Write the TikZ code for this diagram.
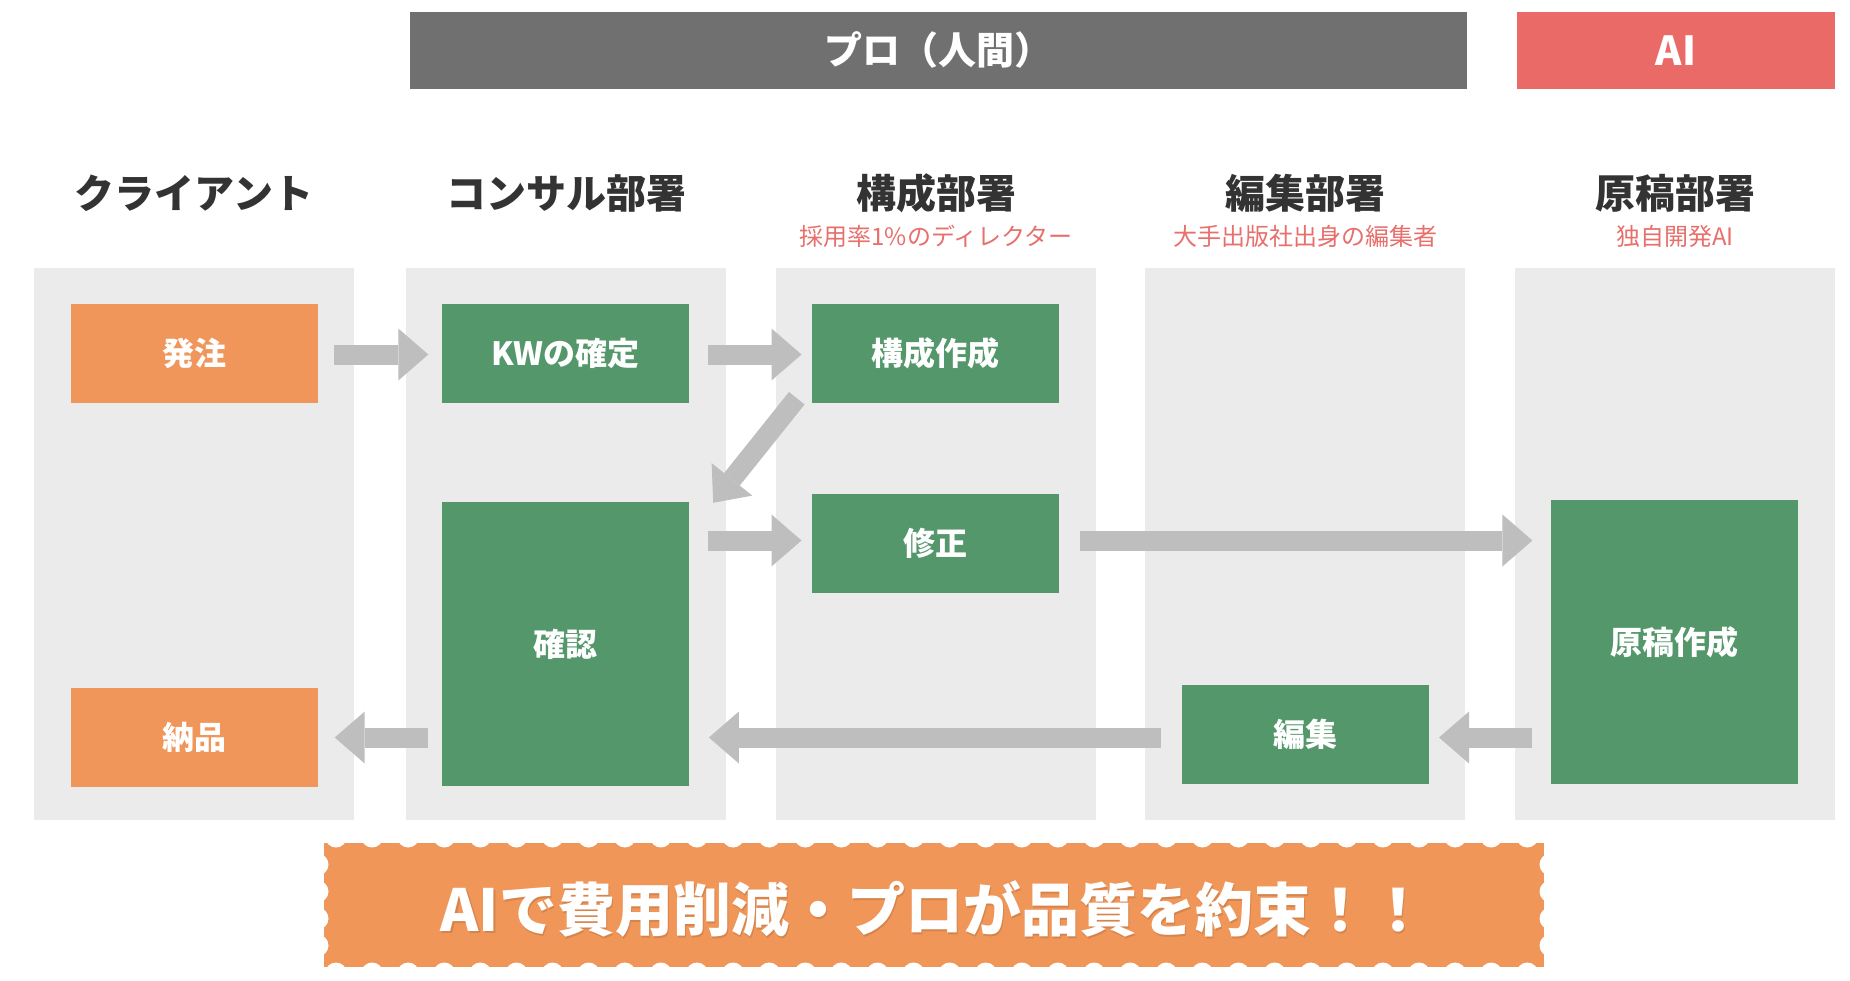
\documentclass[tikz,border=0pt]{standalone}
\usepackage{fontspec}
\setmainfont{Noto Sans CJK JP}
\usetikzlibrary{arrows.meta}
\definecolor{bargray}{HTML}{707070}
\definecolor{aired}{HTML}{E96A66}
\definecolor{colbg}{HTML}{EBEBEB}
\definecolor{boxorange}{HTML}{F0965A}
\definecolor{boxgreen}{HTML}{53976A}
\definecolor{arrowgray}{HTML}{BEBEBE}
\definecolor{headtext}{HTML}{333333}
\definecolor{subred}{HTML}{E8706C}
\definecolor{bannerorange}{HTML}{EF9658}
\definecolor{shadowc}{HTML}{B8703F}
\begin{document}
\begin{tikzpicture}[x=1pt, y=-1pt,
  lane/.style={fill=colbg, draw=none, minimum width=320pt, minimum height=552pt, inner sep=0pt},
  topbar/.style={draw=none, inner sep=0pt, minimum height=77pt, text=white, font=\bfseries\fontsize{38}{44}\selectfont},
  dept/.style={text=headtext, font=\bfseries\fontsize{40}{48}\selectfont, inner sep=0pt},
  deptsub/.style={text=subred, font=\fontsize{24}{28}\selectfont, inner sep=0pt},
  task/.style={draw=none, inner sep=0pt, minimum width=247pt, minimum height=99pt, text=white, font=\bfseries\fontsize{32}{38}\selectfont},
  clienttask/.style={task, fill=boxorange},
  stafftask/.style={task, fill=boxgreen},
  flow/.style={draw=arrowgray, line width=20pt, -{Triangle[width=52pt,length=30pt,line width=0pt]}},
  notch/.style={fill=white},
]
\useasboundingbox[fill=white] (0,0) rectangle (1850,980);

% top bars
\node[topbar, fill=bargray, minimum width=1057pt] (pro) at (938.5,50.5) {プロ（人間）};
\node[topbar, fill=aired, minimum width=318.5pt, font=\bfseries\fontsize{40}{46}\selectfont] (ai) at (1675.8,50.5) {AI};

% lanes
\node[lane] (lane1) at (194,544) {};
\node[lane] (lane2) at (566,544) {};
\node[lane] (lane3) at (936,544) {};
\node[lane] (lane4) at (1305,544) {};
\node[lane] (lane5) at (1675,544) {};

% headers
\node[dept] (h1) at (194,193) {クライアント};
\node[dept] (h2) at (566,193) {コンサル部署};
\node[dept] (h3) at (936,193) {構成部署};
\node[dept] (h4) at (1305,193) {編集部署};
\node[dept] (h5) at (1675,193) {原稿部署};
\node[deptsub] (s3) at (936,236) {採用率1\%のディレクター};
\node[deptsub] (s4) at (1305,236) {大手出版社出身の編集者};
\node[deptsub] (s5) at (1675,236) {独自開発AI};

% tasks
\node[clienttask] (hatchu) at (194.5,353.5) {発注};
\node[stafftask] (kw) at (565.5,353.5) {KWの確定};
\node[stafftask] (kosei) at (935.5,353.5) {構成作成};
\node[stafftask] (shusei) at (935.5,543.7) {修正};
\node[stafftask, minimum height=284pt] (kakunin) at (565.5,644) {確認};
\node[clienttask] (nohin) at (194.5,737.5) {納品};
\node[stafftask] (henshu) at (1305,734) {編集};
\node[stafftask, minimum height=284pt] (genko) at (1674.5,642) {原稿作成};

% arrow rows
\coordinate (rowA) at (0,354.5);
\coordinate (rowB) at (0,540.5);
\coordinate (rowC) at (0,737.5);

\draw[flow, shorten <=16pt, shorten >=13.5pt] (hatchu.east |- rowA) -- (kw.west |- rowA);
\draw[flow, shorten <=18.7pt, shorten >=10.3pt] (kw.east |- rowA) -- (kosei.west |- rowA);
\draw[flow] ([shift={(-15,-5)}]kosei.south west) -- ([shift={(24,1)}]kakunin.north east);
\draw[flow, shorten <=18.7pt, shorten >=10.3pt] (kakunin.east |- rowB) -- (shusei.west |- rowB);
\draw[flow, shorten <=20.6pt, shorten >=18.4pt] (shusei.east |- rowB) -- (genko.west |- rowB);
\draw[flow, shorten <=18.4pt, shorten >=10.3pt] (genko.west |- rowC) -- (henshu.east |- rowC);
\draw[flow, shorten <=20.5pt, shorten >=19.7pt] (henshu.west |- rowC) -- (kakunin.east |- rowC);
\draw[flow, shorten <=13.5pt, shorten >=16.5pt] (kakunin.west |- rowC) -- (nohin.east |- rowC);

% banner
\node[fill=bannerorange, draw=none, minimum width=1220pt, minimum height=124pt, inner sep=0pt] (banner) at (934,905) {};
\foreach \k in {0,...,33} {
  \fill[notch] ({336+36.1*\k},836.5) circle[radius=11pt];
  \fill[notch] ({336+36.1*\k},973.5) circle[radius=11pt];
}
\foreach \yy in {864.5,891.5,918.5,945.5} {
  \fill[notch] (317.5,\yy) circle[radius=11pt];
  \fill[notch] (1550.5,\yy) circle[radius=11pt];
}
\node[text=shadowc, opacity=0.45, font=\bfseries\fontsize{58}{66}\selectfont, inner sep=0pt] (sloganshadow) at (935.5,910.5) {AIで費用削減・プロが品質を約束！！};
\node[text=white, font=\bfseries\fontsize{58}{66}\selectfont, inner sep=0pt] (slogan) at (934,909) {AIで費用削減・プロが品質を約束！！};
\end{tikzpicture}
\end{document}
